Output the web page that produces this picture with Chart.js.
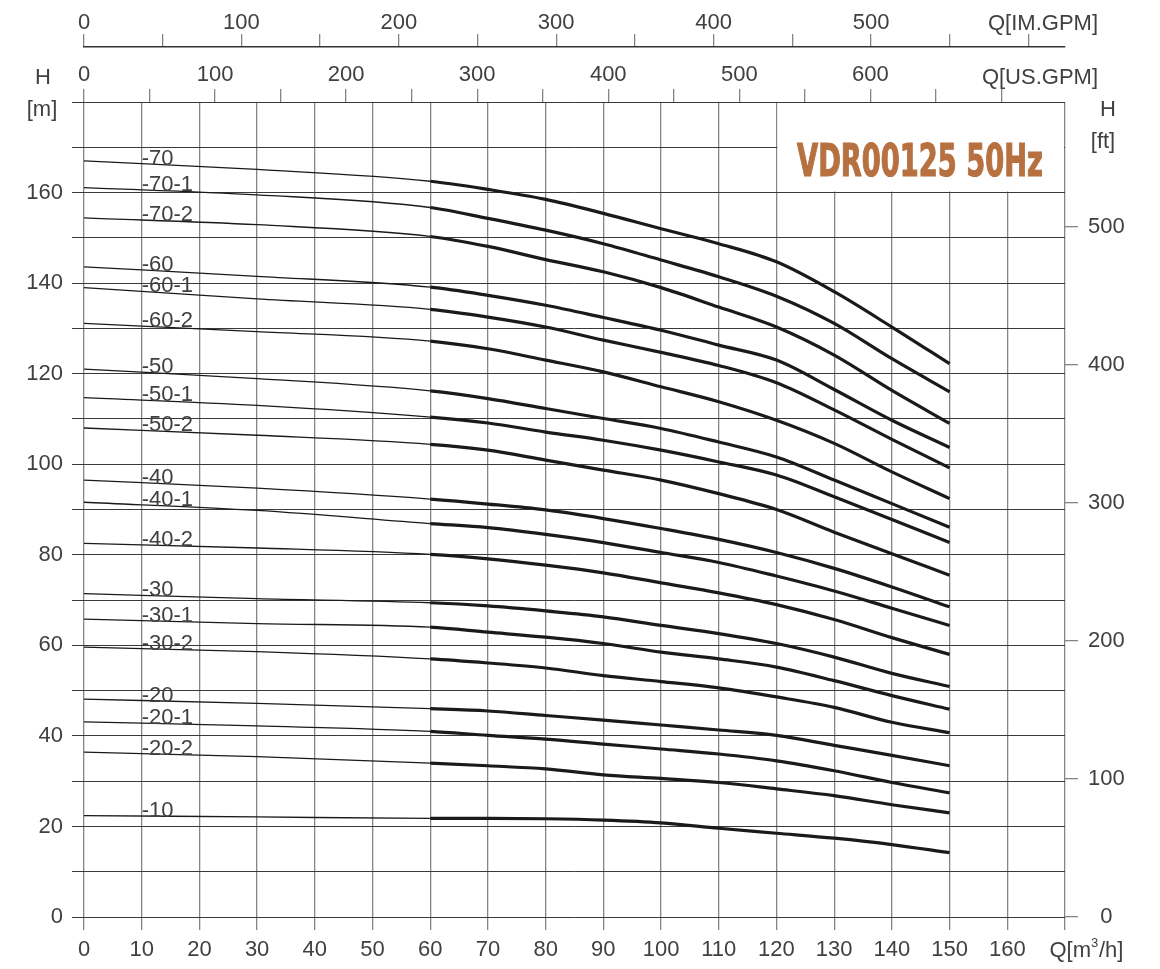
<!DOCTYPE html>
<html>
<head>
<meta charset="utf-8">
<script src="https://cdn.jsdelivr.net/npm/chart.js@4.4.1/dist/chart.umd.min.js"></script>
<style>
  html, body { margin: 0; padding: 0; background: #fff; }
  #wrap { width: 1160px; height: 969px; }
</style>
</head>
<body>
<div id="wrap"><canvas id="curvas"></canvas></div>
<script>
// vazão (m3/h) onde cada curva foi lida
const vazao = [0, 30, 60, 70, 80, 90, 100, 110, 120, 130, 140, 150];

// altura manométrica (m) de cada modelo
const h70   = [167.0, 165.1, 162.5, 160.7, 158.5, 155.4, 152.0, 148.7, 144.7, 138.1, 130.3, 122.2];
const h70_1 = [161.1, 159.5, 156.7, 154.3, 151.7, 148.7, 145.1, 141.4, 137.1, 131.1, 123.3, 116.0];
const h70_2 = [154.4, 152.9, 150.3, 148.1, 145.2, 142.5, 139.0, 134.7, 130.3, 124.1, 116.3, 109.0];
const h60   = [143.6, 141.5, 139.1, 137.3, 135.1, 132.4, 129.6, 126.3, 123.0, 116.5, 109.7, 103.7];
const h60_1 = [139.0, 136.5, 134.2, 132.5, 130.3, 127.4, 124.7, 121.8, 118.0, 112.0, 105.5, 99.2];
const h60_2 = [131.1, 129.3, 127.2, 125.5, 123.0, 120.4, 117.1, 113.8, 109.7, 104.6, 98.3, 92.4];
const h50   = [121.0, 118.9, 116.2, 114.5, 112.3, 110.1, 107.9, 104.9, 101.6, 96.5, 91.3, 86.1];
const h50_1 = [114.7, 113.0, 110.4, 109.1, 107.1, 105.3, 103.1, 100.5, 97.6, 92.8, 87.8, 82.7];
const h50_2 = [108.0, 106.4, 104.4, 103.1, 100.9, 98.7, 96.5, 93.5, 90.0, 85.0, 80.2, 75.5];
const h40   = [96.5, 94.7, 92.3, 91.2, 89.9, 88.0, 85.8, 83.4, 80.5, 77.0, 72.9, 68.5];
const h40_1 = [91.6, 89.8, 86.9, 86.0, 84.5, 82.7, 80.5, 78.3, 75.3, 72.0, 68.2, 64.4];
const h40_2 = [82.5, 81.5, 80.1, 79.1, 77.7, 76.0, 73.8, 71.6, 69.0, 65.7, 61.7, 58.0];
const h30   = [71.4, 70.3, 69.4, 68.7, 67.6, 66.3, 64.4, 62.6, 60.4, 57.4, 53.8, 50.9];
const h30_1 = [65.8, 64.8, 64.0, 62.9, 61.8, 60.4, 58.5, 57.0, 55.2, 52.2, 48.9, 45.9];
const h30_2 = [59.6, 58.6, 57.0, 56.1, 55.0, 53.3, 52.0, 50.6, 48.6, 46.3, 43.0, 40.7];
const h20   = [48.1, 47.2, 46.0, 45.5, 44.5, 43.5, 42.4, 41.3, 40.1, 37.9, 35.7, 33.4];
const h20_1 = [43.1, 42.2, 41.0, 40.1, 39.3, 38.2, 37.1, 36.0, 34.5, 32.3, 29.7, 27.4];
const h20_2 = [36.4, 35.4, 34.0, 33.4, 32.7, 31.4, 30.6, 29.7, 28.3, 26.8, 24.8, 23.0];
const h10   = [22.4, 22.1, 21.8, 21.8, 21.7, 21.4, 20.8, 19.6, 18.5, 17.4, 16.0, 14.2];

const modelos = ['-70', '-70-1', '-70-2', '-60', '-60-1', '-60-2', '-50', '-50-1', '-50-2',
                 '-40', '-40-1', '-40-2', '-30', '-30-1', '-30-2', '-20', '-20-1', '-20-2', '-10'];
const alturas = [h70, h70_1, h70_2, h60, h60_1, h60_2, h50, h50_1, h50_2,
                 h40, h40_1, h40_2, h30, h30_1, h30_2, h20, h20_1, h20_2, h10];

// rótulos dos eixos
const ticksM = [0, 20, 40, 60, 80, 100, 120, 140, 160];
const ticksFt = [0, 100, 200, 300, 400, 500];
const ticksUs = [0, 100, 200, 300, 400, 500, 600];
const ticksIm = [0, 100, 200, 300, 400, 500];
const titulo = 'VDR00125 50Hz';

const Q_MAX = 170, H_MAX = 180;
const US_GPM = 4.40287, IM_GPM = 3.66615, FT = 3.28084;

const FONTE = '"Liberation Sans", Arial, sans-serif';
const COR_TXT = '#404040';
const COR_V = '#858585';
const COR_H = '#3a3a3a';

Chart.defaults.font.family = FONTE;
Chart.defaults.font.size = 22;
Chart.defaults.color = COR_TXT;

const datasets = modelos.map((nome, i) => ({
    label: nome,
    data: vazao.map((q, j) => ({ x: q, y: alturas[i][j] })),
    borderColor: '#1a1a1a',
    borderWidth: 3,
    pointRadius: 0,
    fill: false,
    cubicInterpolationMode: 'monotone',
    segment: {
        // trecho fora da faixa de operação é fino
        borderWidth: ctx => ctx.p0DataIndex >= 2 ? 3.2 : 1.3
    }
}));

function fixaAltura(h) { return s => { s.height = h; }; }
function fixaLargura(w) { return s => { s.width = w; }; }

// marcas a cada "passo" até o fim da escala (o Chart.js ajusta o passo sozinho se não)
function marcas(passo) {
    return s => {
        const lista = [];
        for (let v = 0; v <= s.max + 1e-9; v += passo) lista.push({ value: v });
        s.ticks = lista;
    };
}

const textos = {
    id: 'textos',
    beforeDatasetsDraw(chart) {
        const ctx = chart.ctx;
        const x = chart.scales.x, y = chart.scales.y;
        // caixa do título
        const x0 = x.getPixelForValue(120) + 1, y1 = y.getPixelForValue(160) - 1;
        const top = chart.chartArea.top + 1, right = chart.chartArea.right - 1;
        ctx.save();
        ctx.fillStyle = '#fff';
        ctx.fillRect(x0, top, right - x0, y1 - top);
        ctx.font = 'bold 45px "Liberation Sans Narrow", "DejaVu Sans Condensed", sans-serif';
        ctx.fillStyle = '#b77140';
        ctx.strokeStyle = '#b77140';
        ctx.lineWidth = 1.2;
        const w = ctx.measureText(titulo).width;
        ctx.translate(797, 176);
        ctx.scale(246 / w, 1);
        ctx.textBaseline = 'alphabetic';
        ctx.fillText(titulo, 0, 0);
        ctx.strokeText(titulo, 0, 0);
        ctx.restore();
    },
    afterDatasetsDraw(chart) {
        const ctx = chart.ctx;
        const xPix = chart.scales.x.getPixelForValue(10);
        ctx.save();
        ctx.font = '22px ' + FONTE;
        ctx.fillStyle = COR_TXT;
        ctx.textAlign = 'left';
        ctx.textBaseline = 'alphabetic';
        chart.data.datasets.forEach((ds, i) => {
            const pts = chart.getDatasetMeta(i).data;
            const t = (xPix - pts[0].x) / (pts[1].x - pts[0].x);
            const yPix = pts[0].y + t * (pts[1].y - pts[0].y);
            ctx.fillText(ds.label, xPix, yPix + 1);
        });

        // títulos dos eixos
        ctx.textAlign = 'center';
        ctx.textBaseline = 'middle';
        ctx.fillText('H', 43, 78);
        ctx.fillText('[m]', 42, 110);
        ctx.fillText('H', 1108, 110);
        ctx.fillText('[ft]', 1103, 142);
        ctx.textAlign = 'right';
        ctx.fillText('Q[IM.GPM]', 1098, 24);
        ctx.fillText('Q[US.GPM]', 1098, 78);
        ctx.fillText('Q[m', 1091, 951);
        ctx.font = '13px ' + FONTE;
        ctx.textAlign = 'left';
        ctx.fillText('3', 1091, 943);
        ctx.font = '22px ' + FONTE;
        ctx.fillText('/h]', 1099, 951);
        ctx.restore();
    }
};

new Chart(document.getElementById('curvas'), {
    type: 'line',
    data: { datasets },
    options: {
        responsive: true,
        maintainAspectRatio: false,
        animation: false,
        layout: { padding: 0 },
        plugins: { legend: { display: false }, tooltip: { enabled: false } },
        scales: {
            x: {
                type: 'linear', position: 'bottom', min: 0, max: Q_MAX,
                afterFit: fixaAltura(52),
                afterBuildTicks: marcas(10),
                border: { display: false },
                grid: { color: COR_V, lineWidth: 1.3, tickLength: 13, tickColor: COR_V },
                ticks: { padding: 7, maxRotation: 0, autoSkip: false,
                         callback: v => v < Q_MAX ? String(v) : '' }
            },
            xUs: {
                type: 'linear', position: 'top', weight: 1, min: 0, max: Q_MAX * US_GPM,
                afterFit: fixaAltura(55),
                afterBuildTicks: marcas(50),
                border: { display: false },
                grid: { drawOnChartArea: false, tickLength: 13, tickColor: COR_V, lineWidth: 1.3 },
                ticks: { padding: 1, maxRotation: 0, autoSkip: false,
                         callback: v => ticksUs.includes(v) ? String(v) : '' }
            },
            xIm: {
                type: 'linear', position: 'top', weight: 2, min: 0, max: Q_MAX * IM_GPM,
                afterFit: fixaAltura(47),
                afterBuildTicks: marcas(50),
                border: { display: true, color: '#333', width: 1.5 },
                grid: { drawOnChartArea: false, tickLength: 13, tickColor: COR_V, lineWidth: 1.3 },
                ticks: { padding: -2, maxRotation: 0, autoSkip: false,
                         callback: v => ticksIm.includes(v) ? String(v) : '' }
            },
            y: {
                type: 'linear', position: 'left', min: 0, max: H_MAX,
                afterFit: fixaLargura(84),
                afterBuildTicks: marcas(10),
                border: { display: false },
                grid: { color: COR_H, lineWidth: 1, tickLength: 12, tickColor: COR_H },
                ticks: { padding: 9, autoSkip: false,
                         callback: v => ticksM.includes(v) ? String(v) : '' }
            },
            yFt: {
                type: 'linear', position: 'right', min: 0, max: H_MAX * FT,
                afterFit: fixaLargura(95),
                afterBuildTicks: marcas(100),
                border: { display: false },
                grid: { drawOnChartArea: false, tickLength: 13, tickColor: COR_V, lineWidth: 1.3 },
                ticks: { padding: 10, crossAlign: 'center', autoSkip: false,
                         callback: v => ticksFt.includes(v) ? String(v) : '' }
            }
        }
    },
    plugins: [textos]
});
</script>
</body>
</html>
